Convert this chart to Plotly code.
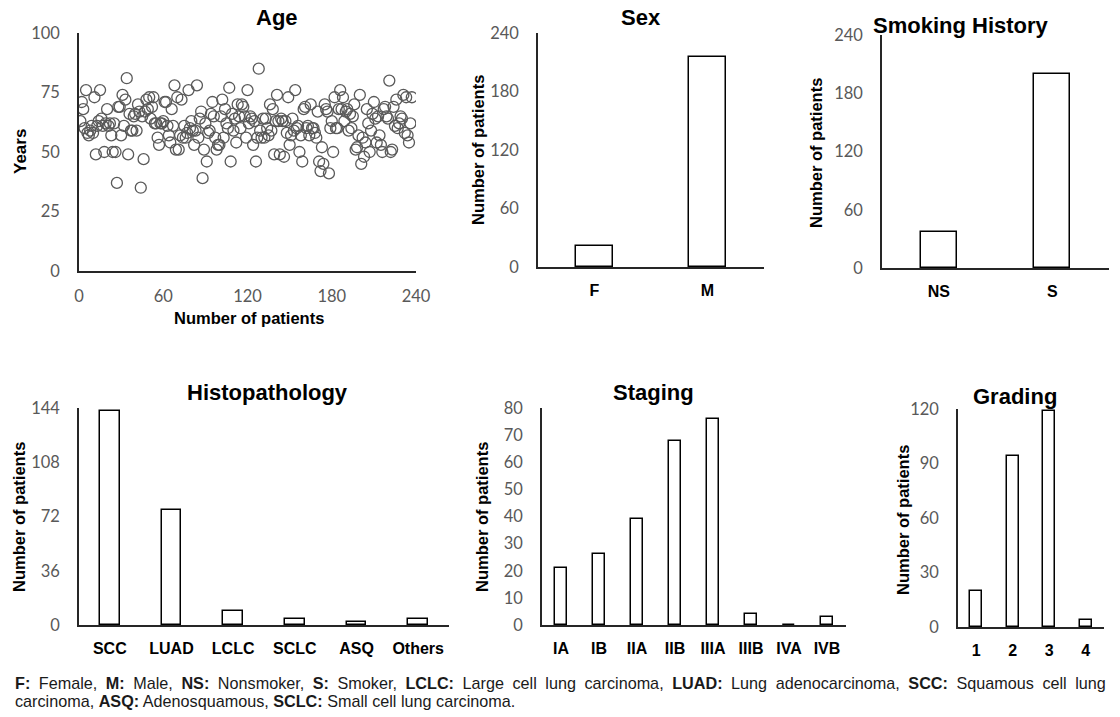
import plotly.graph_objects as go

# ---------------- data ----------------
ages = [63, 71, 68, 60, 76, 58, 57, 59, 61, 58,
        73, 49, 61, 63, 76, 64, 61, 50, 62, 68,
        61, 62, 57, 50, 62, 50, 37, 69, 69, 57,
        74, 61, 72, 81, 49, 66, 59, 59, 65, 66,
        59, 70, 67, 35, 65, 47, 67, 72, 68, 73,
        64, 69, 73, 62, 62, 56, 53, 62, 62, 63,
        71, 71, 61, 57, 54, 68, 61, 78, 51, 73,
        51, 57, 72, 56, 61, 56, 58, 76, 60, 63,
        59, 53, 59, 78, 56, 64, 67, 39, 51, 62,
        46, 58, 59, 66, 71, 65, 56, 51, 53, 53,
        65, 72, 56, 68, 62, 60, 77, 46, 66, 59,
        64, 54, 70, 65, 60, 70, 69, 65, 56, 76,
        62, 65, 64, 53, 63, 46, 56, 85, 59, 56,
        64, 56, 64, 60, 57, 70, 59, 68, 49, 63,
        74, 63, 49, 64, 63, 48, 63, 58, 73, 53,
        57, 64, 59, 76, 60, 61, 50, 57, 46, 68,
        69, 60, 61, 57, 70, 60, 60, 58, 56, 67,
        46, 42, 52, 45, 70, 68, 67, 41, 60, 63,
        50, 73, 60, 60, 68, 76, 68, 73, 63, 67,
        68, 59, 66, 60, 65, 70, 51, 52, 57, 74,
        45, 56, 48, 54, 68, 62, 50, 59, 66, 71,
        64, 54, 65, 57, 53, 50, 68, 69, 65, 64,
        80, 50, 51, 69, 61, 72, 60, 62, 65, 64,
        74, 58, 73, 57, 54, 62, 73]
patients = list(range(1, len(ages) + 1))

sex_cats = ["F", "M"]
sex_vals = [22, 215]

smoke_cats = ["NS", "S"]
smoke_vals = [37, 200]

histo_cats = ["SCC", "LUAD", "LCLC", "SCLC", "ASQ", "Others"]
histo_vals = [142, 76, 9, 4, 2, 4]

stage_cats = ["IA", "IB", "IIA", "IIB", "IIIA", "IIIB", "IVA", "IVB"]
stage_vals = [21, 26, 39, 68, 76, 4, 0, 3]

grade_cats = ["1", "2", "3", "4"]
grade_vals = [20, 94, 119, 4]

age_ticks = [0, 25, 50, 75, 100]
age_xticks = [0, 60, 120, 180, 240]
sex_ticks = [0, 60, 120, 180, 240]
smoke_ticks = [0, 60, 120, 180, 240]
histo_ticks = [0, 36, 72, 108, 144]
stage_ticks = [0, 10, 20, 30, 40, 50, 60, 70, 80]
grade_ticks = [0, 30, 60, 90, 120]

# ---------------- layout helpers ----------------
W, H = 1120, 717
def px(x):
    return x / W
def py(y):
    return 1 - y / H

TICKFONT = dict(family="Lato, Open Sans, sans-serif", size=16.5, color="#595959")
CATFONT = dict(family="Liberation Sans, Arial, sans-serif", size=16, color="#000000")
TITLEFONT = dict(family="Liberation Sans, Arial, sans-serif", size=22, color="#000000")
AXTFONT = dict(family="Liberation Sans, Arial, sans-serif", size=16.5, color="#000000")
LINEC = "#262626"

fig = go.Figure()

panels = {
    "1": (79, 416, 33, 271),
    "2": (538, 764, 33, 267),
    "3": (882, 1109, 35, 268),
    "4": (79, 449, 408, 625),
    "5": (542, 846, 408, 625),
    "6": (958, 1104, 409, 627),
}

layout = {}
for k, (x0, x1, yt, yb) in panels.items():
    xa = "xaxis" if k == "1" else "xaxis" + k
    ya = "yaxis" if k == "1" else "yaxis" + k
    layout[xa] = dict(domain=[px(x0), px(x1)], anchor="y" if k == "1" else "y" + k,
                      showline=True, linecolor=LINEC, linewidth=1.5, showgrid=False,
                      zeroline=False, ticks="", fixedrange=True, automargin=False)
    layout[ya] = dict(domain=[py(yb), py(yt)], anchor="x" if k == "1" else "x" + k,
                      showline=True, linecolor=LINEC, linewidth=1.5, showgrid=False,
                      zeroline=False, ticks="", tickfont=TICKFONT, ticklabelstandoff=14,
                      fixedrange=True, automargin=False)

# Age scatter
fig.add_trace(go.Scatter(x=patients, y=ages, mode="markers", xaxis="x", yaxis="y",
                         marker=dict(symbol="circle-open", size=11,
                                     line=dict(color="#595959", width=1.3),
                                     color="#595959"),
                         showlegend=False, hoverinfo="x+y"))
layout["xaxis"].update(range=[0, 240], tickvals=age_xticks, tickfont=TICKFONT,
                       ticklabelstandoff=9)
layout["yaxis"].update(range=[0, 100], tickvals=age_ticks)

def bars(cats, vals, k, yr, ticks, w):
    fig.add_trace(go.Bar(x=cats, y=vals, xaxis="x" + k, yaxis="y" + k, width=w,
                         marker=dict(color="white", line=dict(color="#000000", width=1.5)),
                         showlegend=False))
    layout["xaxis" + k].update(type="category", range=[-0.5, len(cats) - 0.5],
                               tickvals=cats, ticktext=["<b>%s</b>" % c for c in cats],
                               tickfont=CATFONT, ticklabelstandoff=8)
    layout["yaxis" + k].update(range=[0, yr], tickvals=ticks)

bars(sex_cats, sex_vals, "2", 240, sex_ticks, 0.32)
bars(smoke_cats, smoke_vals, "3", 240, smoke_ticks, 0.32)
bars(histo_cats, histo_vals, "4", 144, histo_ticks, 0.32)
bars(stage_cats, stage_vals, "5", 80, stage_ticks, 0.32)
bars(grade_cats, grade_vals, "6", 120, grade_ticks, 0.33)

ann = []
def title(text, x, y):
    ann.append(dict(text="<b>%s</b>" % text, x=px(x), y=py(y), xref="paper", yref="paper",
                    showarrow=False, font=TITLEFONT, xanchor="center", yanchor="middle"))
def ytitle(text, x, y, size=16.5):
    f = dict(AXTFONT); f["size"] = size
    ann.append(dict(text="<b>%s</b>" % text, x=px(x), y=py(y), xref="paper", yref="paper",
                    showarrow=False, font=f, textangle=-90, xanchor="center", yanchor="middle"))

title("Age", 277, 17)
title("Sex", 641, 17)
title("Smoking History", 961, 25)
title("Histopathology", 267, 392)
title("Staging", 653, 392)
title("Grading", 1015, 396)

ytitle("Years", 20, 152, 17)
ytitle("Number of patients", 478, 150)
ytitle("Number of patients", 816, 153)
ytitle("Number of patients", 19, 517)
ytitle("Number of patients", 482, 517)
ytitle("Number of patients", 903, 520)

ann.append(dict(text="<b>Number of patients</b>", x=px(249), y=py(318), xref="paper",
                yref="paper", showarrow=False, font=AXTFONT, xanchor="center", yanchor="middle"))

CAPFONT = dict(family="Liberation Sans, Arial, sans-serif", size=16.2, color="#1a1a1a")
line1 = ("<b>F:</b> Female, <b>M:</b> Male, <b>NS:</b> Nonsmoker, <b>S:</b> Smoker, "
         "<b>LCLC:</b> Large cell lung carcinoma, <b>LUAD:</b> Lung adenocarcinoma, "
         "<b>SCC:</b> Squamous cell lung")
# emulate the justified first line by widening the word gaps
line1 = line1.replace(" ", " \u2005")
line2 = "carcinoma, <b>ASQ:</b> Adenosquamous, <b>SCLC:</b> Small cell lung carcinoma."
ann.append(dict(text=line1, x=px(13), y=py(683), xref="paper", yref="paper", showarrow=False,
                font=CAPFONT, xanchor="left", yanchor="middle"))
ann.append(dict(text=line2, x=px(13), y=py(701), xref="paper", yref="paper", showarrow=False,
                font=CAPFONT, xanchor="left", yanchor="middle"))

fig.update_layout(width=W, height=H,
                  margin=dict(l=0, r=0, t=0, b=0, pad=0, autoexpand=False),
                  paper_bgcolor="white", plot_bgcolor="white", annotations=ann,
                  bargap=0, **layout)

fig.write_html("out.html", config={"displayModeBar": False},
               post_script="document.body.style.margin='0';document.body.style.overflow='hidden';")
